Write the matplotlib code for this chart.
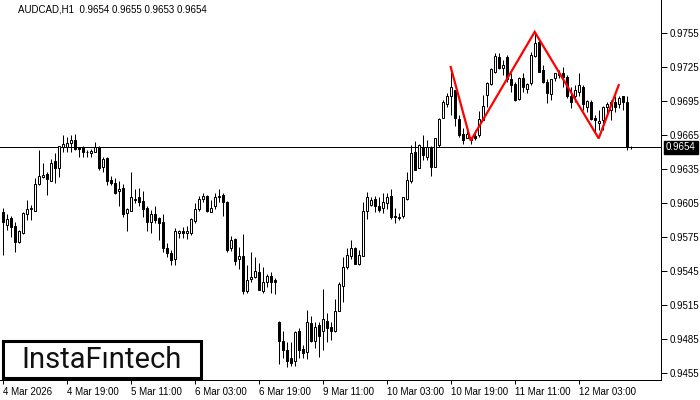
import matplotlib
matplotlib.use("Agg")
import matplotlib.pyplot as plt
from matplotlib.patches import Rectangle
import matplotlib.transforms as mtransforms

# ---------------- data (AUDCAD, H1) ----------------
opens = [0.9597, 0.9586, 0.9592, 0.9585, 0.9571, 0.9579, 0.9595, 0.9600, 0.9598, 0.9622,
         0.9628, 0.9631, 0.9624, 0.9642, 0.9636, 0.9654, 0.9654, 0.9658, 0.9661, 0.9654,
         0.9654, 0.9650, 0.9649, 0.9650, 0.9654, 0.9637, 0.9645, 0.9625, 0.9623, 0.9616,
         0.9618, 0.9596, 0.9598, 0.9608, 0.9610, 0.9607, 0.9601, 0.9588, 0.9595, 0.9592,
         0.9588, 0.9565, 0.9561, 0.9556, 0.9579, 0.9580, 0.9579, 0.9579, 0.9589, 0.9600,
         0.9609, 0.9611, 0.9597, 0.9602, 0.9610, 0.9612, 0.9606, 0.9565, 0.9573, 0.9556,
         0.9558, 0.9527, 0.9538, 0.9540, 0.9544, 0.9527, 0.9535, 0.9541, 0.9537, 0.9500,
         0.9483, 0.9475, 0.9468, 0.9466, 0.9492, 0.9476, 0.9474, 0.9499, 0.9483, 0.9497,
         0.9492, 0.9501, 0.9496, 0.9492, 0.9510, 0.9532, 0.9549, 0.9558, 0.9565, 0.9551,
         0.9558, 0.9598, 0.9603, 0.9609, 0.9602, 0.9601, 0.9605, 0.9611, 0.9594, 0.9593,
         0.9594, 0.9609, 0.9624, 0.9650, 0.9636, 0.9654, 0.9646, 0.9654, 0.9637, 0.9656,
         0.9680, 0.9692, 0.9699, 0.9705, 0.9679, 0.9666, 0.9662, 0.9662, 0.9664, 0.9665,
         0.9678, 0.9700, 0.9710, 0.9721, 0.9734, 0.9724, 0.9734, 0.9714, 0.9710, 0.9697,
         0.9715, 0.9706, 0.9711, 0.9735, 0.9747, 0.9722, 0.9712, 0.9701, 0.9715, 0.9718,
         0.9720, 0.9716, 0.9699, 0.9699, 0.9703, 0.9707, 0.9690, 0.9694, 0.9680, 0.9676,
         0.9678, 0.9690, 0.9687, 0.9694, 0.9692, 0.9699, 0.9694, 0.9654]
highs = [0.9601, 0.9595, 0.9594, 0.9588, 0.9581, 0.9597, 0.9608, 0.9603, 0.9627, 0.9652,
         0.9640, 0.9632, 0.9644, 0.9649, 0.9655, 0.9665, 0.9663, 0.9665, 0.9666, 0.9654,
         0.9655, 0.9652, 0.9653, 0.9659, 0.9655, 0.9646, 0.9646, 0.9629, 0.9627, 0.9624,
         0.9622, 0.9601, 0.9632, 0.9617, 0.9618, 0.9616, 0.9602, 0.9599, 0.9602, 0.9593,
         0.9595, 0.9570, 0.9564, 0.9583, 0.9581, 0.9584, 0.9585, 0.9592, 0.9605, 0.9611,
         0.9614, 0.9612, 0.9608, 0.9614, 0.9617, 0.9614, 0.9607, 0.9576, 0.9574, 0.9566,
         0.9578, 0.9550, 0.9562, 0.9557, 0.9552, 0.9549, 0.9542, 0.9544, 0.9539, 0.9501,
         0.9492, 0.9482, 0.9482, 0.9492, 0.9495, 0.9480, 0.9511, 0.9505, 0.9500, 0.9500,
         0.9529, 0.9508, 0.9500, 0.9520, 0.9535, 0.9557, 0.9565, 0.9572, 0.9566, 0.9564,
         0.9606, 0.9615, 0.9610, 0.9611, 0.9610, 0.9614, 0.9614, 0.9617, 0.9601, 0.9596,
         0.9610, 0.9632, 0.9656, 0.9660, 0.9657, 0.9665, 0.9661, 0.9655, 0.9662, 0.9680,
         0.9696, 0.9702, 0.9725, 0.9705, 0.9683, 0.9671, 0.9671, 0.9663, 0.9669, 0.9686,
         0.9700, 0.9712, 0.9724, 0.9737, 0.9737, 0.9731, 0.9736, 0.9720, 0.9712, 0.9716,
         0.9720, 0.9711, 0.9738, 0.9756, 0.9749, 0.9727, 0.9714, 0.9714, 0.9720, 0.9722,
         0.9725, 0.9718, 0.9707, 0.9709, 0.9720, 0.9709, 0.9696, 0.9696, 0.9683, 0.9687,
         0.9691, 0.9694, 0.9696, 0.9699, 0.9699, 0.9699, 0.9699, 0.9655]
lows = [0.9559, 0.9581, 0.9575, 0.9562, 0.9570, 0.9578, 0.9590, 0.9590, 0.9598, 0.9621,
        0.9627, 0.9612, 0.9624, 0.9623, 0.9628, 0.9650, 0.9650, 0.9650, 0.9652, 0.9646,
        0.9646, 0.9646, 0.9646, 0.9650, 0.9634, 0.9632, 0.9621, 0.9621, 0.9613, 0.9602,
        0.9593, 0.9580, 0.9598, 0.9605, 0.9602, 0.9593, 0.9580, 0.9579, 0.9587, 0.9572,
        0.9562, 0.9557, 0.9550, 0.9550, 0.9574, 0.9574, 0.9573, 0.9577, 0.9587, 0.9598,
        0.9606, 0.9597, 0.9597, 0.9600, 0.9606, 0.9594, 0.9562, 0.9563, 0.9550, 0.9547,
        0.9525, 0.9526, 0.9535, 0.9539, 0.9528, 0.9526, 0.9531, 0.9526, 0.9525, 0.9463,
        0.9468, 0.9460, 0.9461, 0.9461, 0.9468, 0.9468, 0.9467, 0.9482, 0.9477, 0.9469,
        0.9475, 0.9482, 0.9484, 0.9491, 0.9510, 0.9518, 0.9547, 0.9556, 0.9551, 0.9550,
        0.9558, 0.9591, 0.9602, 0.9597, 0.9597, 0.9596, 0.9600, 0.9591, 0.9587, 0.9590,
        0.9592, 0.9608, 0.9623, 0.9634, 0.9636, 0.9643, 0.9643, 0.9629, 0.9637, 0.9654,
        0.9680, 0.9690, 0.9683, 0.9673, 0.9663, 0.9657, 0.9662, 0.9657, 0.9661, 0.9663,
        0.9678, 0.9690, 0.9709, 0.9720, 0.9723, 0.9718, 0.9712, 0.9703, 0.9695, 0.9696,
        0.9703, 0.9702, 0.9709, 0.9734, 0.9721, 0.9711, 0.9693, 0.9696, 0.9713, 0.9715,
        0.9707, 0.9698, 0.9689, 0.9694, 0.9699, 0.9687, 0.9685, 0.9678, 0.9668, 0.9669,
        0.9669, 0.9683, 0.9678, 0.9685, 0.9689, 0.9687, 0.9652, 0.9653]
closes = [0.9588, 0.9591, 0.9584, 0.9571, 0.9580, 0.9596, 0.9600, 0.9601, 0.9622, 0.9629,
          0.9630, 0.9626, 0.9640, 0.9636, 0.9655, 0.9657, 0.9658, 0.9661, 0.9653, 0.9653,
          0.9650, 0.9650, 0.9651, 0.9654, 0.9636, 0.9644, 0.9624, 0.9623, 0.9614, 0.9617,
          0.9595, 0.9600, 0.9610, 0.9609, 0.9606, 0.9600, 0.9588, 0.9595, 0.9590, 0.9587,
          0.9565, 0.9561, 0.9555, 0.9580, 0.9580, 0.9579, 0.9580, 0.9591, 0.9600, 0.9609,
          0.9611, 0.9598, 0.9601, 0.9610, 0.9611, 0.9606, 0.9564, 0.9572, 0.9554, 0.9558,
          0.9527, 0.9537, 0.9540, 0.9545, 0.9528, 0.9535, 0.9541, 0.9535, 0.9535, 0.9483,
          0.9475, 0.9466, 0.9464, 0.9491, 0.9475, 0.9473, 0.9500, 0.9483, 0.9496, 0.9488,
          0.9503, 0.9495, 0.9492, 0.9510, 0.9534, 0.9549, 0.9559, 0.9565, 0.9551, 0.9559,
          0.9598, 0.9610, 0.9608, 0.9602, 0.9599, 0.9606, 0.9610, 0.9593, 0.9593, 0.9592,
          0.9610, 0.9625, 0.9649, 0.9634, 0.9656, 0.9647, 0.9654, 0.9637, 0.9662, 0.9679,
          0.9694, 0.9699, 0.9707, 0.9680, 0.9665, 0.9661, 0.9666, 0.9661, 0.9662, 0.9679,
          0.9691, 0.9711, 0.9723, 0.9735, 0.9724, 0.9727, 0.9714, 0.9709, 0.9696, 0.9715,
          0.9707, 0.9710, 0.9736, 0.9746, 0.9721, 0.9712, 0.9702, 0.9714, 0.9720, 0.9720,
          0.9716, 0.9699, 0.9694, 0.9705, 0.9709, 0.9692, 0.9695, 0.9679, 0.9678, 0.9677,
          0.9690, 0.9692, 0.9694, 0.9690, 0.9698, 0.9694, 0.9654, 0.9654]

time_labels = ["4 Mar 2026", "4 Mar 19:00", "5 Mar 11:00", "6 Mar 03:00", "6 Mar 19:00",
               "9 Mar 11:00", "10 Mar 03:00", "10 Mar 19:00", "11 Mar 11:00", "12 Mar 03:00"]
time_label_bars = [0, 16, 32, 48, 64, 80, 96, 112, 128, 144]

price_ticks = [0.9455, 0.9485, 0.9515, 0.9545, 0.9575, 0.9605, 0.9635, 0.9665, 0.9695, 0.9725, 0.9755]
current_price = 0.9654

# head & shoulders pattern outline
pattern_bars = [112, 117, 133, 149, 154]
pattern_prices = [0.9725, 0.9660, 0.9756, 0.9662, 0.9709]

title_text = "AUDCAD,H1  0.9654 0.9655 0.9653 0.9654"
logo_text = "InstaF\u0131ntech"

# ---------------- drawing ----------------
plt.rcParams['font.family'] = ['Liberation Sans', 'DejaVu Sans']
W, H = 700, 400
fig = plt.figure(figsize=(7, 4), dpi=100)
fig.patch.set_facecolor("white")
ax = fig.add_axes([0, 20 / H, 661 / W, 380 / H])
ax.set_facecolor("white")

lw = 0.72
bw = 0.5
for i in range(len(opens)):
    o, h, l, c = opens[i], highs[i], lows[i], closes[i]
    ax.vlines(i, l, h, color="black", linewidth=lw, zorder=2)
    lo, hi = min(o, c), max(o, c)
    fc = "white" if c >= o else "black"
    ax.add_patch(Rectangle((i - bw / 2, lo), bw, hi - lo, facecolor=fc,
                           edgecolor="black", linewidth=lw, zorder=3))

ax.axhline(current_price, color="black", linewidth=lw, zorder=1)
ax.plot(pattern_bars, pattern_prices, color="#ff0000", linewidth=1.6, zorder=4,
        solid_joinstyle="miter")

ax.set_xlim(-0.675, (661 - 2.7) / 4)
ax.set_ylim(0.94489, 0.97841)

for s in ["left", "top"]:
    ax.spines[s].set_visible(False)
for s in ["right", "bottom"]:
    ax.spines[s].set_linewidth(lw)
    ax.spines[s].set_color("black")

ax.yaxis.tick_right()
ax.set_yticks(price_ticks)
ax.set_yticklabels([f"{p:.4f}" for p in price_ticks])
ax.tick_params(axis="y", length=4, width=lw, pad=2.5, labelsize=7, colors="black")

ax.set_xticks(time_label_bars)
ax.set_xticklabels(time_labels, ha="left")
ax.tick_params(axis="x", length=3, width=lw, pad=2, labelsize=7, colors="black")

trans = mtransforms.blended_transform_factory(ax.transAxes, ax.transData)
ax.text(1.0 + 5 / 661, current_price, f"{current_price:.4f}", transform=trans,
        color="white", fontsize=7, va="center", ha="left", zorder=10,
        bbox=dict(boxstyle="square,pad=0.2", facecolor="black", edgecolor="black"),
        clip_on=False)

fig.text(18 / W, 1 - 10 / H, title_text, fontsize=7, va="center", ha="left", color="black")

logo_box = Rectangle((3 / W, 1 - 378 / H), 198 / W, 37 / H, transform=fig.transFigure,
                     facecolor="white", edgecolor="black", linewidth=2.2, zorder=5)
fig.add_artist(logo_box)
fig.text(102 / W, 1 - 360 / H, logo_text, fontsize=21, va="center", ha="center",
         color="#111111", family=["Roboto", "DejaVu Sans"], zorder=6)

fig.savefig("out.png", dpi=100, facecolor="white")
